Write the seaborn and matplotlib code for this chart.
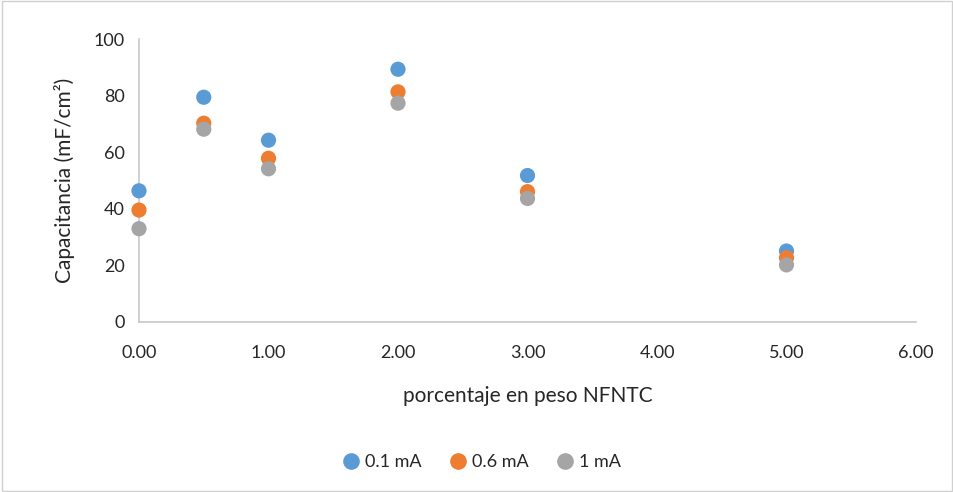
import pandas as pd
import matplotlib.pyplot as plt
import seaborn as sns
from matplotlib.patches import Rectangle

# data
porcentaje = [0.0, 0.5, 1.0, 2.0, 3.0, 5.0]
cap_01 = [46.3, 79.4, 64.2, 89.3, 51.7, 25.0]
cap_06 = [39.5, 70.2, 57.8, 81.3, 46.0, 22.6]
cap_1 = [32.9, 68.1, 54.1, 77.3, 43.6, 20.1]
series = ["0.1 mA", "0.6 mA", "1 mA"]
colores = ["#5B9BD5", "#ED7D31", "#A5A5A5"]

df = pd.concat([
    pd.DataFrame({"x": porcentaje, "y": cap_01, "serie": series[0]}),
    pd.DataFrame({"x": porcentaje, "y": cap_06, "serie": series[1]}),
    pd.DataFrame({"x": porcentaje, "y": cap_1, "serie": series[2]}),
], ignore_index=True)

sns.set_style("white")
plt.rcParams['font.family'] = ['Lato', 'DejaVu Sans']

fig = plt.figure(figsize=(9.54, 4.92), dpi=100)
ax = fig.add_axes([139/954, 1-321.7/492, (916-139)/954, (321.7-39)/492])

sns.scatterplot(data=df, x="x", y="y", hue="serie", palette=colores,
                s=120, linewidth=0, ax=ax, zorder=3, legend=False, clip_on=False)

ax.set_xlim(0, 6)
ax.set_ylim(0, 100)
ax.set_xticks(range(0, 7))
ax.set_xticklabels([f"{v:.2f}" for v in range(0, 7)])
ax.set_yticks(range(0, 101, 20))
ax.tick_params(axis="both", length=0, labelsize=13, colors="#262626", pad=10)
ax.tick_params(axis="x", pad=17)
for side in ["top", "right"]:
    ax.spines[side].set_visible(False)
for side in ["left", "bottom"]:
    ax.spines[side].set_color("#c8c8c8")
    ax.spines[side].set_linewidth(1.2)

ax.set_xlabel("porcentaje en peso NFNTC", fontsize=15, color="#262626", labelpad=18)
ax.set_ylabel("Capacitancia (mF/cm²)", fontsize=15, color="#262626", labelpad=14)

handles = [plt.Line2D([], [], marker="o", linestyle="", markersize=12,
                      markerfacecolor=c, markeredgewidth=0) for c in colores]
fig.legend(handles, series, loc="center", bbox_to_anchor=(0.5, 1-462/492), ncol=3,
           frameon=False, fontsize=13, handletextpad=-0.2, columnspacing=1.0,
           labelcolor="#262626")

fig.patches.append(Rectangle((0.002, 0.002), 0.996, 0.996, transform=fig.transFigure,
                             fill=False, edgecolor="#d0d0d0", linewidth=1))

fig.savefig("out.png", dpi=100)
